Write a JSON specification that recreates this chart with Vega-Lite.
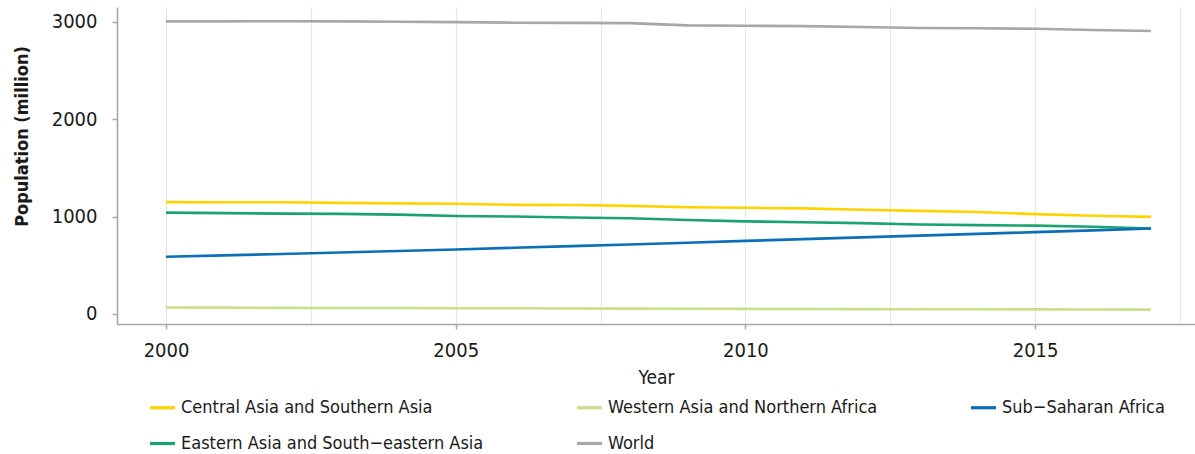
{
  "$schema": "https://vega.github.io/schema/vega-lite/v6.json",
  "width": 1078,
  "height": 317,
  "autosize": {"type": "none"},
  "padding": {"left": 117, "top": 7, "right": 0, "bottom": 130},
  "background": "white",
  "config": {
    "view": {"stroke": null},
    "font": "DejaVu Sans Condensed, Roboto, sans-serif",
    "axis": {"labelFont": "DejaVu Sans Condensed, Roboto, sans-serif", "titleFont": "DejaVu Sans Condensed, Roboto, sans-serif"},
    "legend": {"labelFont": "DejaVu Sans Condensed, Roboto, sans-serif"}
  },
  "data": {
    "values": [
      {"year": 2000, "region": "World", "pop": 3003},
      {"year": 2001, "region": "World", "pop": 3003},
      {"year": 2002, "region": "World", "pop": 3005},
      {"year": 2003, "region": "World", "pop": 3003},
      {"year": 2004, "region": "World", "pop": 3000},
      {"year": 2005, "region": "World", "pop": 2996},
      {"year": 2006, "region": "World", "pop": 2990},
      {"year": 2007, "region": "World", "pop": 2988},
      {"year": 2008, "region": "World", "pop": 2985},
      {"year": 2009, "region": "World", "pop": 2962},
      {"year": 2010, "region": "World", "pop": 2958},
      {"year": 2011, "region": "World", "pop": 2955},
      {"year": 2012, "region": "World", "pop": 2946},
      {"year": 2013, "region": "World", "pop": 2935},
      {"year": 2014, "region": "World", "pop": 2933},
      {"year": 2015, "region": "World", "pop": 2927},
      {"year": 2016, "region": "World", "pop": 2915},
      {"year": 2017, "region": "World", "pop": 2905},

      {"year": 2000, "region": "Central Asia and Southern Asia", "pop": 1148},
      {"year": 2001, "region": "Central Asia and Southern Asia", "pop": 1147},
      {"year": 2002, "region": "Central Asia and Southern Asia", "pop": 1146},
      {"year": 2003, "region": "Central Asia and Southern Asia", "pop": 1140},
      {"year": 2004, "region": "Central Asia and Southern Asia", "pop": 1135},
      {"year": 2005, "region": "Central Asia and Southern Asia", "pop": 1132},
      {"year": 2006, "region": "Central Asia and Southern Asia", "pop": 1120},
      {"year": 2007, "region": "Central Asia and Southern Asia", "pop": 1118},
      {"year": 2008, "region": "Central Asia and Southern Asia", "pop": 1110},
      {"year": 2009, "region": "Central Asia and Southern Asia", "pop": 1095},
      {"year": 2010, "region": "Central Asia and Southern Asia", "pop": 1090},
      {"year": 2011, "region": "Central Asia and Southern Asia", "pop": 1084},
      {"year": 2012, "region": "Central Asia and Southern Asia", "pop": 1070},
      {"year": 2013, "region": "Central Asia and Southern Asia", "pop": 1058},
      {"year": 2014, "region": "Central Asia and Southern Asia", "pop": 1047},
      {"year": 2015, "region": "Central Asia and Southern Asia", "pop": 1025},
      {"year": 2016, "region": "Central Asia and Southern Asia", "pop": 1008},
      {"year": 2017, "region": "Central Asia and Southern Asia", "pop": 997},

      {"year": 2000, "region": "Eastern Asia and South−eastern Asia", "pop": 1040},
      {"year": 2001, "region": "Eastern Asia and South−eastern Asia", "pop": 1035},
      {"year": 2002, "region": "Eastern Asia and South−eastern Asia", "pop": 1030},
      {"year": 2003, "region": "Eastern Asia and South−eastern Asia", "pop": 1027},
      {"year": 2004, "region": "Eastern Asia and South−eastern Asia", "pop": 1020},
      {"year": 2005, "region": "Eastern Asia and South−eastern Asia", "pop": 1005},
      {"year": 2006, "region": "Eastern Asia and South−eastern Asia", "pop": 1000},
      {"year": 2007, "region": "Eastern Asia and South−eastern Asia", "pop": 990},
      {"year": 2008, "region": "Eastern Asia and South−eastern Asia", "pop": 982},
      {"year": 2009, "region": "Eastern Asia and South−eastern Asia", "pop": 965},
      {"year": 2010, "region": "Eastern Asia and South−eastern Asia", "pop": 950},
      {"year": 2011, "region": "Eastern Asia and South−eastern Asia", "pop": 942},
      {"year": 2012, "region": "Eastern Asia and South−eastern Asia", "pop": 932},
      {"year": 2013, "region": "Eastern Asia and South−eastern Asia", "pop": 918},
      {"year": 2014, "region": "Eastern Asia and South−eastern Asia", "pop": 912},
      {"year": 2015, "region": "Eastern Asia and South−eastern Asia", "pop": 907},
      {"year": 2016, "region": "Eastern Asia and South−eastern Asia", "pop": 895},
      {"year": 2017, "region": "Eastern Asia and South−eastern Asia", "pop": 878},

      {"year": 2000, "region": "Sub−Saharan Africa", "pop": 587},
      {"year": 2001, "region": "Sub−Saharan Africa", "pop": 601},
      {"year": 2002, "region": "Sub−Saharan Africa", "pop": 616},
      {"year": 2003, "region": "Sub−Saharan Africa", "pop": 631},
      {"year": 2004, "region": "Sub−Saharan Africa", "pop": 646},
      {"year": 2005, "region": "Sub−Saharan Africa", "pop": 662},
      {"year": 2006, "region": "Sub−Saharan Africa", "pop": 679},
      {"year": 2007, "region": "Sub−Saharan Africa", "pop": 696},
      {"year": 2008, "region": "Sub−Saharan Africa", "pop": 713},
      {"year": 2009, "region": "Sub−Saharan Africa", "pop": 731},
      {"year": 2010, "region": "Sub−Saharan Africa", "pop": 750},
      {"year": 2011, "region": "Sub−Saharan Africa", "pop": 768},
      {"year": 2012, "region": "Sub−Saharan Africa", "pop": 786},
      {"year": 2013, "region": "Sub−Saharan Africa", "pop": 804},
      {"year": 2014, "region": "Sub−Saharan Africa", "pop": 822},
      {"year": 2015, "region": "Sub−Saharan Africa", "pop": 840},
      {"year": 2016, "region": "Sub−Saharan Africa", "pop": 858},
      {"year": 2017, "region": "Sub−Saharan Africa", "pop": 877},

      {"year": 2000, "region": "Western Asia and Northern Africa", "pop": 66},
      {"year": 2001, "region": "Western Asia and Northern Africa", "pop": 65},
      {"year": 2002, "region": "Western Asia and Northern Africa", "pop": 63},
      {"year": 2003, "region": "Western Asia and Northern Africa", "pop": 62},
      {"year": 2004, "region": "Western Asia and Northern Africa", "pop": 61},
      {"year": 2005, "region": "Western Asia and Northern Africa", "pop": 59},
      {"year": 2006, "region": "Western Asia and Northern Africa", "pop": 58},
      {"year": 2007, "region": "Western Asia and Northern Africa", "pop": 56},
      {"year": 2008, "region": "Western Asia and Northern Africa", "pop": 55},
      {"year": 2009, "region": "Western Asia and Northern Africa", "pop": 54},
      {"year": 2010, "region": "Western Asia and Northern Africa", "pop": 52},
      {"year": 2011, "region": "Western Asia and Northern Africa", "pop": 51},
      {"year": 2012, "region": "Western Asia and Northern Africa", "pop": 50},
      {"year": 2013, "region": "Western Asia and Northern Africa", "pop": 49},
      {"year": 2014, "region": "Western Asia and Northern Africa", "pop": 48},
      {"year": 2015, "region": "Western Asia and Northern Africa", "pop": 47},
      {"year": 2016, "region": "Western Asia and Northern Africa", "pop": 46},
      {"year": 2017, "region": "Western Asia and Northern Africa", "pop": 45}
    ]
  },
  "mark": {"type": "line", "strokeWidth": 2.6, "clip": true},
  "encoding": {
    "x": {
      "field": "year",
      "type": "quantitative",
      "scale": {"domain": [1999.154, 2017.76], "nice": false, "zero": false},
      "axis": {
        "title": "Year",
        "titleFontSize": 19,
        "titleFontWeight": "normal",
        "titleColor": "#1a1a1a",
        "titleX": 539,
        "titleY": 53,
        "titleAnchor": null,
        "titleAlign": "center",
        "titleBaseline": "middle",
        "values": [2000, 2002.5, 2005, 2007.5, 2010, 2012.5, 2015, 2017.5],
        "labelExpr": "datum.value % 5 === 0 ? datum.value : ''",
        "labelFontSize": 20,
        "labelColor": "#1a1a1a",
        "labelPadding": 11,
        "labelFlush": false,
        "labelOverlap": false,
        "grid": true,
        "gridColor": "#e8e8e8",
        "gridWidth": 1.2,
        "domainColor": "#a8a8aa",
        "domainWidth": 1.6,
        "ticks": true,
        "tickSize": 5,
        "tickWidth": 1.5,
        "tickColor": "#a8a8aa",
        "tickOpacity": {"condition": {"test": "datum.value % 5 === 0", "value": 1}, "value": 0}
      }
    },
    "y": {
      "field": "pop",
      "type": "quantitative",
      "scale": {"domain": [-103, 3151], "nice": false, "zero": false},
      "axis": {
        "title": "Population (million)",
        "titleFontSize": 18,
        "titleFontWeight": "bold",
        "titleColor": "#1a1a1a",
        "titleAngle": 270,
        "titleX": -95,
        "titleY": 129,
        "titleAlign": "center",
        "titleBaseline": "middle",
        "values": [0, 1000, 2000, 3000],
        "format": "d",
        "labelFontSize": 20,
        "labelColor": "#1a1a1a",
        "labelPadding": 15,
        "grid": false,
        "domainColor": "#a8a8aa",
        "domainWidth": 1.6,
        "tickSize": 5,
        "tickWidth": 1.5,
        "tickColor": "#a8a8aa"
      }
    },
    "color": {
      "field": "region",
      "type": "nominal",
      "scale": {
        "domain": [
          "Central Asia and Southern Asia",
          "Western Asia and Northern Africa",
          "Sub−Saharan Africa",
          "Eastern Asia and South−eastern Asia",
          "World"
        ],
        "range": ["#FFD300", "#C8E08C", "#0B6FB6", "#1AA271", "#A7A7AA"]
      },
      "legend": {
        "title": null,
        "orient": "none",
        "legendX": 31,
        "legendY": 386,
        "direction": "horizontal",
        "columns": 3,
        "columnPadding": 86,
        "rowPadding": 12,
        "symbolType": "stroke",
        "symbolSize": 625,
        "symbolStrokeWidth": 3.2,
        "labelFontSize": 18,
        "labelColor": "#1a1a1a",
        "labelOffset": 4,
        "labelLimit": 500
      }
    }
  }
}
